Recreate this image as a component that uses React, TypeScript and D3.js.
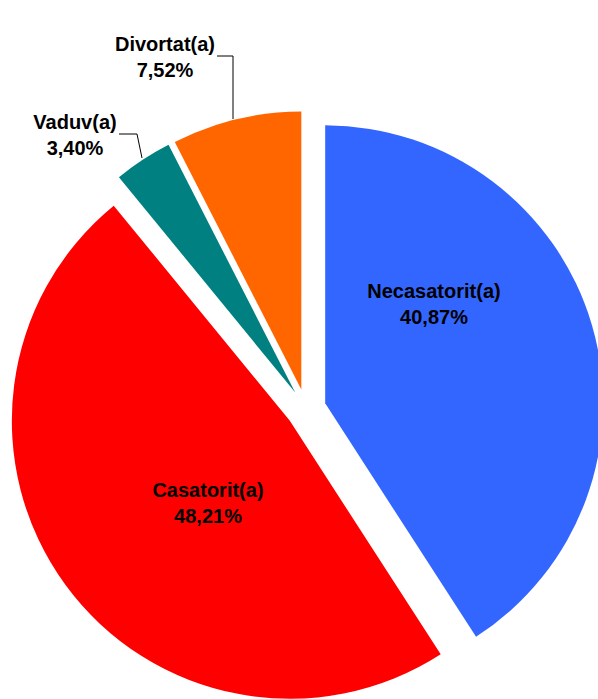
import React from "react";
import * as d3 from "d3";

const categories = ["Necasatorit(a)", "Casatorit(a)", "Vaduv(a)", "Divortat(a)"];
const values = [40.87, 48.21, 3.4, 7.52];
const valueLabels = ["40,87%", "48,21%", "3,40%", "7,52%"];
const colors = ["#3366FF", "#FF0000", "#008080", "#FF6600"];

const W = 598;
const H = 699;
const cx = 306;
const cy = 409;
const R = 278;
const explode = 20;

export default function App() {
  const pie = d3
    .pie<number>()
    .sort(null)
    .value((d) => d)
    .startAngle(0)
    .endAngle(2 * Math.PI);
  const arcs = pie(values);
  const arcGen = d3.arc<d3.PieArcDatum<number>>().innerRadius(0).outerRadius(R);

  const slices = arcs.map((a, i) => {
    const mid = (a.startAngle + a.endAngle) / 2;
    const ox = explode * Math.sin(mid);
    const oy = -explode * Math.cos(mid);
    return { a, i, ox, oy, mid };
  });

  // label anchor positions (inside for big slices, outside for small)
  const labelPos = [
    { x: 434, y: 298 },
    { x: 208, y: 497 },
    { x: 75, y: 129 },
    { x: 165, y: 51 },
  ];

  const font = "'Liberation Sans', Arial, sans-serif";

  return (
    <svg
      width={W}
      height={H}
      style={{ position: "absolute", left: 0, top: 0, background: "#fff" }}
    >
      {slices.map(({ a, i, ox, oy }) => (
        <path
          key={i}
          d={arcGen(a) || ""}
          transform={`translate(${cx + ox},${cy + oy})`}
          fill={colors[i]}
        />
      ))}
      {/* leader lines */}
      <polyline
        points="217,56 233,56 233,119"
        fill="none"
        stroke="#000"
        strokeWidth={1}
      />
      <polyline
        points="119,134 137,134 142,158"
        fill="none"
        stroke="#000"
        strokeWidth={1}
      />
      {categories.map((c, i) => (
        <text
          key={c}
          x={labelPos[i].x}
          y={labelPos[i].y}
          textAnchor="middle"
          fontFamily={font}
          fontWeight="bold"
          fontSize={20}
          fill="#000"
        >
          <tspan x={labelPos[i].x} dy={0}>
            {c}
          </tspan>
          <tspan x={labelPos[i].x} dy={26}>
            {valueLabels[i]}
          </tspan>
        </text>
      ))}
    </svg>
  );
}
